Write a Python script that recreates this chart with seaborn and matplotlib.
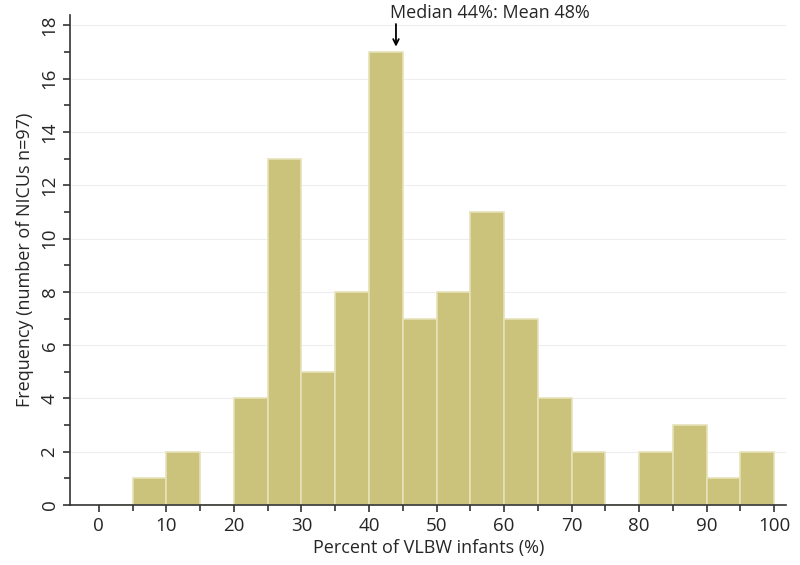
import numpy as np
import seaborn as sns
import matplotlib.pyplot as plt
import pandas as pd

# Histogram bins (percent of VLBW infants) and NICU counts per bin
bin_edges = [0, 5, 10, 15, 20, 25, 30, 35, 40, 45, 50, 55, 60, 65, 70, 75, 80, 85, 90, 95, 100]
counts = [0, 1, 2, 0, 4, 13, 5, 8, 17, 7, 8, 11, 7, 4, 2, 0, 2, 3, 1, 2]
median_pct = 44
mean_pct = 48

df = pd.DataFrame({
    'pct': [(a + b) / 2 for a, b in zip(bin_edges[:-1], bin_edges[1:])],
    'n': counts,
})

sns.set_style('white')
plt.rcParams['font.family'] = ['Open Sans', 'DejaVu Sans']

fig = plt.figure(figsize=(8, 5.65), dpi=100)
ax = fig.add_axes([0.088, 0.106, 0.895, 0.868])

sns.histplot(data=df, x='pct', weights='n', bins=bin_edges, ax=ax,
             color='#CBC27C', alpha=1, edgecolor='#E6E2B8', linewidth=1.2)

ax.set_xlim(-4.2, 101.8)
ax.set_ylim(0, 18.4)
ax.set_xticks(range(0, 101, 10))
ax.set_xticks(range(5, 100, 10), minor=True)
ax.set_yticks(range(0, 19, 2))
ax.set_yticks(range(1, 19, 2), minor=True)
ax.yaxis.grid(True, color='#EEEEEE', linewidth=0.8)
ax.set_axisbelow(True)

for s in ['top', 'right']:
    ax.spines[s].set_visible(False)
for s in ['left', 'bottom']:
    ax.spines[s].set_color('#333333')
    ax.spines[s].set_linewidth(1.2)

ax.tick_params(axis='both', which='major', direction='out', length=5, width=1.2,
               color='#333333', labelsize=13.5, bottom=True, left=True)
ax.tick_params(axis='both', which='minor', direction='out', length=4, width=1.2,
               color='#333333', bottom=True, left=True)
for lbl in ax.get_yticklabels():
    lbl.set_rotation(90)
    lbl.set_va('center')

ax.set_xlabel('Percent of VLBW infants (%)', fontsize=13, labelpad=3)
ax.set_ylabel('Frequency (number of NICUs n=97)', fontsize=13, labelpad=5)

# median/mean note with a straight down arrow
ax.annotate('', xy=(median_pct, 17.2), xytext=(median_pct, 18.05),
            annotation_clip=False,
            arrowprops=dict(arrowstyle='->', color='black', lw=1.3,
                            shrinkA=0, shrinkB=0))
ax.text(median_pct - 0.9, 18.27, f'Median {median_pct}%: Mean {mean_pct}%',
        ha='left', va='baseline', fontsize=13, clip_on=False)

plt.savefig('out.png', dpi=100)
